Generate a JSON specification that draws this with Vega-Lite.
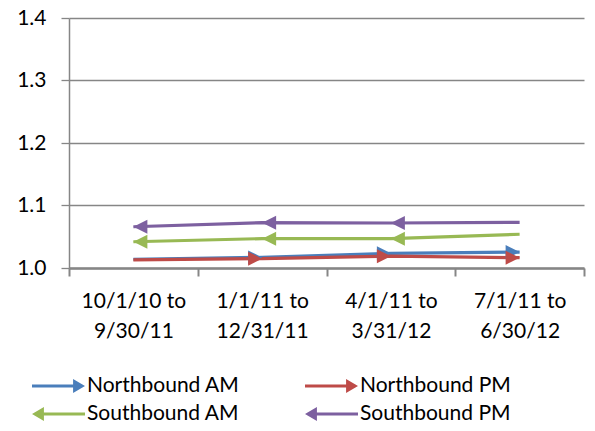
{
  "$schema": "https://vega.github.io/schema/vega-lite/v6.json",
  "width": 515,
  "height": 250,
  "autosize": {"type": "none"},
  "padding": {"left": 69, "top": 18, "right": 11, "bottom": 163},
  "background": "white",
  "config": {
    "view": {"stroke": null},
    "font": "Lato",
    "axis": {"labelFont": "Lato", "labelFontSize": 21, "labelColor": "#000000"},
    "legend": {"labelFont": "Lato", "labelFontSize": 21, "labelColor": "#000000"}
  },
  "data": {
    "values": [
      {"period": "10/1/10 to 9/30/11", "series": "Northbound AM", "value": 1.014},
      {"period": "1/1/11 to 12/31/11", "series": "Northbound AM", "value": 1.017},
      {"period": "4/1/11 to 3/31/12", "series": "Northbound AM", "value": 1.0235},
      {"period": "7/1/11 to 6/30/12", "series": "Northbound AM", "value": 1.0255},
      {"period": "10/1/10 to 9/30/11", "series": "Northbound PM", "value": 1.013},
      {"period": "1/1/11 to 12/31/11", "series": "Northbound PM", "value": 1.015},
      {"period": "4/1/11 to 3/31/12", "series": "Northbound PM", "value": 1.019},
      {"period": "7/1/11 to 6/30/12", "series": "Northbound PM", "value": 1.0165},
      {"period": "10/1/10 to 9/30/11", "series": "Southbound AM", "value": 1.042},
      {"period": "1/1/11 to 12/31/11", "series": "Southbound AM", "value": 1.047},
      {"period": "4/1/11 to 3/31/12", "series": "Southbound AM", "value": 1.047},
      {"period": "7/1/11 to 6/30/12", "series": "Southbound AM", "value": 1.054},
      {"period": "10/1/10 to 9/30/11", "series": "Southbound PM", "value": 1.066},
      {"period": "1/1/11 to 12/31/11", "series": "Southbound PM", "value": 1.0725},
      {"period": "4/1/11 to 3/31/12", "series": "Southbound PM", "value": 1.072},
      {"period": "7/1/11 to 6/30/12", "series": "Southbound PM", "value": 1.073}
    ]
  },
  "encoding": {
    "x": {
      "field": "period", "type": "nominal", "sort": null,
      "scale": {"type": "band", "paddingInner": 0, "paddingOuter": 0},
      "axis": {
        "title": null, "labelAngle": 0, "tickBand": "extent",
        "domainColor": "#868686", "domainWidth": 2.5,
        "tickColor": "#868686", "tickWidth": 2, "tickSize": 8,
        "labelPadding": 14, "labelLineHeight": 30, "labelBaseline": "top",
        "labelExpr": "isString(datum.value) ? [split(datum.value, ' to ')[0] + ' to', split(datum.value, ' to ')[1]] : ''"
      }
    },
    "y": {
      "field": "value", "type": "quantitative",
      "scale": {"domain": [1.0, 1.4], "nice": false, "zero": false},
      "axis": {
        "title": null, "values": [1.0, 1.1, 1.2, 1.3, 1.4], "format": ".1f",
        "grid": true, "gridColor": "#868686", "gridWidth": 1.3,
        "domainColor": "#868686", "domainWidth": 1.5,
        "tickColor": "#868686", "tickWidth": 1.3, "tickSize": 8,
        "labelPadding": 15
      }
    },
    "color": {
      "field": "series", "type": "nominal",
      "scale": {
        "domain": ["Northbound AM", "Northbound PM", "Southbound AM", "Southbound PM"],
        "range": ["#4a7ebb", "#be4b48", "#98b954", "#7d60a0"]
      },
      "legend": {
        "title": null, "orient": "none", "legendX": -37, "legendY": 358,
        "direction": "horizontal",
        "columns": 2, "columnPadding": 65, "rowPadding": 7, "clipHeight": 20,
        "padding": 0, "symbolSize": 2809, "labelOffset": 2,
        "encode": {
          "symbols": {
            "update": {
              "shape": {"signal": "indexof(datum.value, 'North') >= 0 ? 'M-1,-0.057 L0.55,-0.057 L0.55,-0.26 L1,0 L0.55,0.26 L0.55,0.057 L-1,0.057 Z' : 'M1,-0.057 L-0.55,-0.057 L-0.55,-0.26 L-1,0 L-0.55,0.26 L-0.55,0.057 L1,0.057 Z'"},
              "fill": {"signal": "scale('color', datum.value)"},
              "fillOpacity": {"value": 1},
              "strokeWidth": {"value": 0}
            }
          }
        }
      }
    }
  },
  "layer": [
    {
      "mark": {"type": "line", "strokeWidth": 3.2}
    },
    {
      "transform": [
        {"filter": "indexof(datum.series, 'North') >= 0 && datum.period != '10/1/10 to 9/30/11'"}
      ],
      "mark": {"type": "point", "filled": true, "opacity": 1, "size": 196, "strokeWidth": 0, "shape": "M0,0 L-2,-1 L-2,1 Z"}
    },
    {
      "transform": [
        {"filter": "indexof(datum.series, 'South') >= 0 && datum.period != '7/1/11 to 6/30/12'"}
      ],
      "mark": {"type": "point", "filled": true, "opacity": 1, "size": 196, "strokeWidth": 0, "shape": "M0,0 L2,-1 L2,1 Z"}
    }
  ]
}
